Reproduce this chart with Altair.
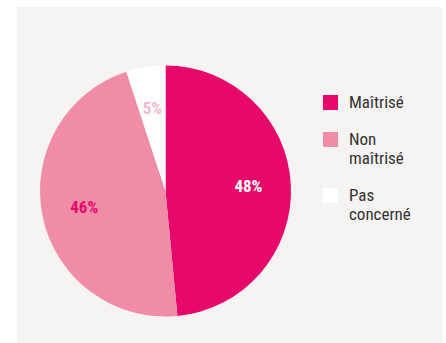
import altair as alt
import pandas as pd

categories = ["Maîtrisé", "Non maîtrisé", "Pas concerné"]
values = [48, 46, 5]
labels = ["48%", "46%", "5%"]
colors = ["#e6086a", "#f08ca6", "#ffffff"]
label_colors = ["#ffffff", "#e6086a", "#f6b9cb"]

df = pd.DataFrame({
    "cat": categories,
    "value": values,
    "label": labels,
    "lcolor": label_colors,
    "order": list(range(len(categories))),
})

FONT = "Liberation Sans Narrow, Roboto Condensed, Roboto, sans-serif"

base = alt.Chart(df).encode(
    theta=alt.Theta("value:Q", stack=True),
    order=alt.Order("order:Q"),
    x=alt.value(148.5),
    y=alt.value(184),
)

pie = base.mark_arc(outerRadius=125.5, stroke=None).encode(
    color=alt.Color(
        "cat:N",
        sort=categories,
        scale=alt.Scale(domain=categories, range=colors),
        legend=alt.Legend(
            title=None,
            orient="none",
            legendX=305,
            legendY=87,
            symbolType="square",
            symbolSize=225,
            symbolStrokeWidth=0,
            symbolOpacity=1,
            labelFont=FONT,
            labelFontSize=17,
            labelColor="#333333",
            labelOffset=10,
            rowPadding=19,
            labelExpr="datum.label == 'Non maîtrisé' ? ['Non', 'maîtrisé'] : datum.label == 'Pas concerné' ? ['Pas', 'concerné'] : datum.label",
        ),
    )
)

text = base.mark_text(radius=83, fontSize=17, fontWeight="bold", font=FONT).encode(
    text="label:N",
    color=alt.Color("lcolor:N", scale=None),
)

chart = (pie + text).properties(
    width=426,
    height=336,
    padding={"left": 17, "top": 7, "right": 3, "bottom": 0},
    background="#ffffff",
).configure_view(fill="#f5f4f2", stroke=None)

chart.save("out.html", embed_options={"renderer": "svg", "actions": False})
